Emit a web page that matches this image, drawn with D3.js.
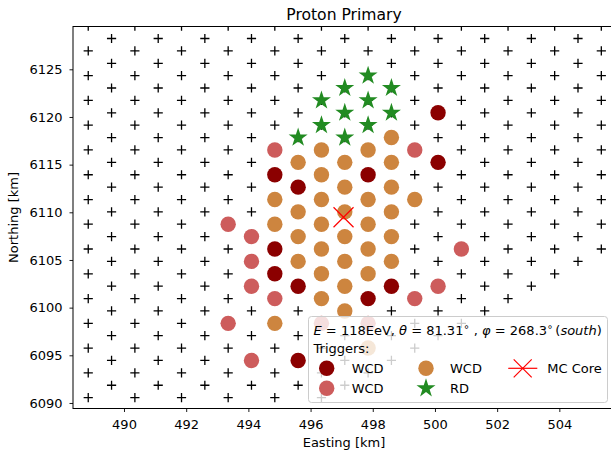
<!DOCTYPE html>
<html>
<head>
<meta charset="utf-8">
<title>Proton Primary</title>
<script src="https://cdn.jsdelivr.net/npm/d3@7"></script>
<style>
  body { margin: 0; background: #ffffff; }
  svg { display: block; font-family: "DejaVu Sans", sans-serif; }
</style>
</head>
<body>
<script>

// station array: column eastings and row northings [km]
var eastings = [488.85, 489.60, 490.35, 491.10, 491.85, 492.60, 493.35, 494.10, 494.85, 495.60,
                496.35, 497.10, 497.85, 498.60, 499.35, 500.10, 500.85, 501.60, 502.35, 503.10,
                503.85, 504.60, 505.35];
var northings = [6090.56, 6091.86, 6093.16, 6094.46, 6095.76, 6097.06, 6098.35, 6099.65, 6100.95, 6102.25,
                 6103.55, 6104.85, 6106.15, 6107.45, 6108.75, 6110.05, 6111.34, 6112.64, 6113.94, 6115.24,
                 6116.54, 6117.84, 6119.14, 6120.44, 6121.74, 6123.04, 6124.33, 6125.63, 6126.93, 6128.23,
                 6129.53];
// first / last row used by each column (lower right corner of the array is cut off)
var firstRow = [0, 1, 0, 1, 0, 1, 0, 1, 0, 1, 0, 1, 2, 3, 4, 5, 6, 7, 8, 9, 10, 11, 12];
var lastRow  = [30, 29, 30, 29, 30, 29, 30, 29, 30, 29, 30, 29, 30, 29, 30, 29, 30, 29, 30, 29, 30, 29, 30];

// triggered stations [easting, northing]
var wcdDark = [[494.85, 6113.94], [494.85, 6106.15], [494.85, 6103.55], [495.60, 6112.64], [495.60, 6102.25],
               [495.60, 6094.46], [497.85, 6113.94], [497.85, 6100.95], [498.60, 6102.25], [500.10, 6120.44],
               [500.10, 6115.24]];
var wcdLight = [[493.35, 6108.75], [493.35, 6098.35], [494.10, 6107.45], [494.10, 6104.85], [494.10, 6102.25],
                [494.10, 6094.46], [494.85, 6116.54], [494.85, 6100.95], [496.35, 6098.35], [497.85, 6098.35],
                [499.35, 6116.54], [499.35, 6100.95], [500.10, 6102.25], [500.85, 6106.15]];
var wcdOrange = [[494.85, 6111.34], [494.85, 6108.75], [494.85, 6098.35],
                 [495.60, 6115.24], [495.60, 6110.05], [495.60, 6107.45], [495.60, 6104.85],
                 [496.35, 6116.54], [496.35, 6113.94], [496.35, 6111.34], [496.35, 6108.75], [496.35, 6106.15],
                 [496.35, 6103.55], [496.35, 6100.95],
                 [497.10, 6115.24], [497.10, 6112.64], [497.10, 6110.05], [497.10, 6107.45], [497.10, 6104.85],
                 [497.10, 6102.25], [497.10, 6099.65],
                 [497.85, 6116.54], [497.85, 6111.34], [497.85, 6108.75], [497.85, 6106.15], [497.85, 6103.55],
                 [497.85, 6095.76],
                 [498.60, 6117.84], [498.60, 6115.24], [498.60, 6112.64], [498.60, 6110.05], [498.60, 6107.45],
                 [498.60, 6104.85],
                 [499.35, 6111.34]];
var rdStations = [[495.60, 6117.84], [496.35, 6121.74], [496.35, 6119.14], [497.10, 6123.04], [497.10, 6120.44],
                  [497.10, 6117.84], [497.85, 6124.33], [497.85, 6121.74], [497.85, 6119.14], [498.60, 6123.04],
                  [498.60, 6120.44]];
var mcCore = [497.06, 6109.48];

var xTicks = [490, 492, 494, 496, 498, 500, 502, 504];
var yTicks = [6090, 6095, 6100, 6105, 6110, 6115, 6120, 6125];

var colDark = "#8b0000", colLight = "#cd5c5c", colOrange = "#cd853f", colStar = "#228b22", colCore = "#ff0000";

var svg = d3.select("body").append("svg")
    .attr("width", 611)
    .attr("height", 451);

// plot box (right side runs past the picture)
var boxL = 73, boxR = 615, boxT = 26.5, boxB = 408.5;

var x = d3.scaleLinear().domain([488.36, 505.79]).range([boxL, boxR]);
var y = d3.scaleLinear().domain([6089.42, 6129.49]).range([boxB, boxT]);

svg.append("clipPath").attr("id", "plotclip")
    .append("rect")
    .attr("x", boxL).attr("y", boxT)
    .attr("width", boxR - boxL).attr("height", boxB - boxT);

var plot = svg.append("g").attr("clip-path", "url(#plotclip)");

// all stations as + markers
var stations = [];
for (var c = 0; c < eastings.length; c++) {
    for (var r = firstRow[c]; r <= lastRow[c]; r += 2) {
        stations.push([eastings[c], northings[r]]);
    }
}

plot.selectAll("path.station")
    .data(stations)
    .enter()
    .append("path")
    .attr("class", "station")
    .attr("d", "M-4.6,0H4.6M0,-4.6V4.6")
    .attr("transform", function(d) { return "translate(" + x(d[0]) + "," + y(d[1]) + ")"; })
    .attr("stroke", "#000")
    .attr("stroke-width", 1.3)
    .attr("fill", "none");

function circles(data, color) {
    plot.append("g").selectAll("circle")
        .data(data)
        .enter()
        .append("circle")
        .attr("cx", function(d) { return x(d[0]); })
        .attr("cy", function(d) { return y(d[1]); })
        .attr("r", 7.7)
        .attr("fill", color);
}
circles(wcdDark, colDark);
circles(wcdLight, colLight);
circles(wcdOrange, colOrange);

var star = d3.symbol().type(d3.symbolStar).size(112);
plot.append("g").selectAll("path")
    .data(rdStations)
    .enter()
    .append("path")
    .attr("d", star)
    .attr("transform", function(d) { return "translate(" + x(d[0]) + "," + y(d[1]) + ")"; })
    .attr("fill", colStar);

var xMark = "M-10,-10L10,10M-10,10L10,-10";
plot.append("path")
    .attr("d", xMark)
    .attr("transform", "translate(" + x(mcCore[0]) + "," + y(mcCore[1]) + ")")
    .attr("stroke", colCore)
    .attr("stroke-width", 1.2)
    .attr("fill", "none");

// axes
var xAxis = svg.append("g")
    .attr("transform", "translate(0," + boxB + ")")
    .call(d3.axisBottom(x).tickValues(xTicks).tickFormat(d3.format("d"))
        .tickSize(3.5).tickSizeOuter(0).tickPadding(7.5));
var yAxis = svg.append("g")
    .attr("transform", "translate(" + boxL + ",0)")
    .call(d3.axisLeft(y).tickValues(yTicks).tickFormat(d3.format("d"))
        .tickSize(3.5).tickSizeOuter(0).tickPadding(7));

[xAxis, yAxis].forEach(function(a) {
    a.select(".domain").remove();
    a.selectAll("line").attr("stroke", "#000").attr("stroke-width", 0.9);
    a.selectAll("text").attr("font-size", "13px").attr("fill", "#000")
        .attr("font-family", "DejaVu Sans");
});

svg.append("rect")
    .attr("x", boxL).attr("y", boxT)
    .attr("width", boxR - boxL).attr("height", boxB - boxT)
    .attr("fill", "none")
    .attr("stroke", "#000")
    .attr("stroke-width", 1);

svg.append("text")
    .attr("x", (boxL + boxR) / 2).attr("y", 20)
    .attr("text-anchor", "middle")
    .attr("font-size", "15.6px")
    .text("Proton Primary");

svg.append("text")
    .attr("x", (boxL + boxR) / 2).attr("y", 447)
    .attr("text-anchor", "middle")
    .attr("font-size", "13px")
    .text("Easting [km]");

svg.append("text")
    .attr("transform", "translate(17.5," + ((boxT + boxB) / 2) + ") rotate(-90)")
    .attr("text-anchor", "middle")
    .attr("font-size", "13px")
    .text("Northing [km]");

// legend
var leg = svg.append("g");
leg.append("rect")
    .attr("x", 308.5).attr("y", 316.5)
    .attr("width", 299).attr("height", 86)
    .attr("rx", 3)
    .attr("fill", "#fff").attr("fill-opacity", 0.8)
    .attr("stroke", "#ccc").attr("stroke-width", 1);

var head = leg.append("text")
    .attr("x", 313.5).attr("y", 335)
    .attr("font-size", "13px");
head.append("tspan").attr("font-style", "italic").text("E");
head.append("tspan").text(" = 118EeV, ");
head.append("tspan").attr("font-style", "italic").text("θ");
head.append("tspan").text(" = 81.31");
head.append("tspan").attr("font-size", "10px").attr("dy", -5).text("∘");
head.append("tspan").attr("dy", 5).text(" , ");
head.append("tspan").attr("font-style", "italic").text("φ");
head.append("tspan").text(" = 268.3");
head.append("tspan").attr("font-size", "10px").attr("dy", -5).text("∘");
head.append("tspan").attr("dy", 5).attr("dx", 2).text("(");
head.append("tspan").attr("font-style", "italic").text("south");
head.append("tspan").text(")");

leg.append("text")
    .attr("x", 313.5).attr("y", 353)
    .attr("font-size", "13px")
    .text("Triggers:");

var row1 = 368.3, row2 = 388.3;
leg.append("circle").attr("cx", 326.7).attr("cy", row1).attr("r", 7.7).attr("fill", colDark);
leg.append("circle").attr("cx", 326.7).attr("cy", row2).attr("r", 7.7).attr("fill", colLight);
leg.append("circle").attr("cx", 426).attr("cy", row1).attr("r", 7.7).attr("fill", colOrange);
leg.append("path").attr("d", star)
    .attr("transform", "translate(426," + row2 + ")")
    .attr("fill", colStar);
leg.append("path")
    .attr("d", "M508.3," + row1 + "H537.3")
    .attr("stroke", colCore).attr("stroke-width", 1.2);
leg.append("path").attr("d", "M-9,-9L9,9M-9,9L9,-9")
    .attr("transform", "translate(522.7," + row1 + ")")
    .attr("stroke", colCore).attr("stroke-width", 1.2).attr("fill", "none");

var legLabels = [["WCD", 351.7, row1], ["WCD", 351.7, row2], ["WCD", 450, row1], ["RD", 450, row2], ["MC Core", 547.3, row1]];
leg.selectAll("text.lab")
    .data(legLabels)
    .enter()
    .append("text")
    .attr("class", "lab")
    .attr("x", function(d) { return d[1]; })
    .attr("y", function(d) { return d[2] + 5; })
    .attr("font-size", "13px")
    .text(function(d) { return d[0]; });

</script>
</body>
</html>
